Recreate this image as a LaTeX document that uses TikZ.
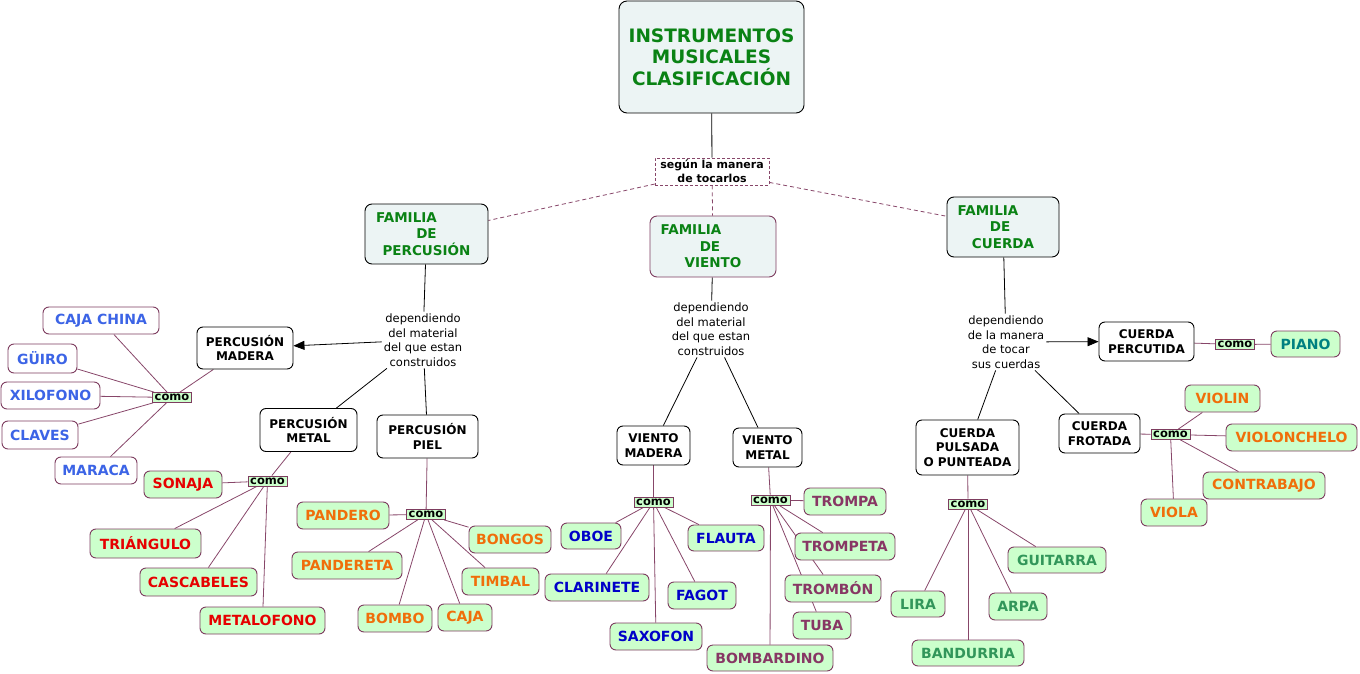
\documentclass[tikz,border=0pt]{standalone}
\usepackage{fontspec}
\setmainfont{DejaVu Sans}
\usetikzlibrary{arrows.meta,backgrounds}
\definecolor{tgreen}{RGB}{10,130,20}
\definecolor{famfill}{RGB}{236,244,244}
\definecolor{leaffill}{RGB}{204,255,204}
\definecolor{leafborder}{RGB}{125,60,95}
\definecolor{linkc}{RGB}{135,70,105}
\definecolor{cblue}{RGB}{60,100,230}
\definecolor{cred}{RGB}{230,0,0}
\definecolor{corange}{RGB}{240,110,10}
\definecolor{cdblue}{RGB}{0,0,200}
\definecolor{cpurple}{RGB}{135,55,100}
\definecolor{cteal}{RGB}{0,128,128}
\definecolor{cseag}{RGB}{50,150,90}
\tikzset{
  sz/.style 2 args={minimum width=#1pt, minimum height=#2pt},
  base/.style={inner sep=0pt, align=center, line width=0.9pt},
  title/.style={base, draw=black, fill=famfill, text=tgreen, rounded corners=8pt,
    font=\fontsize{18.5}{21.5}\selectfont\bfseries},
  fam/.style={base, draw=black, fill=famfill, text=tgreen, rounded corners=7pt,
    font=\fontsize{13.5}{16.5}\selectfont\bfseries},
  blk/.style={base, draw=black, fill=white, rounded corners=6pt,
    font=\fontsize{12}{14.3}\selectfont\bfseries},
  leaf/.style={base, draw=leafborder, fill=leaffill, rounded corners=6pt,
    font=\fontsize{14}{16}\selectfont\bfseries},
  wleaf/.style={leaf, fill=white},
  como/.style={draw=leafborder, fill=leaffill, inner sep=0pt, line width=0.8pt,
    minimum width=39pt, minimum height=10pt, font=\fontsize{11.5}{12}\selectfont\bfseries},
  seg/.style={base, draw=linkc, line width=0.8pt, dash pattern=on 3pt off 2pt, fill=white,
    font=\fontsize{11}{14}\selectfont\bfseries},
  dep/.style={inner sep=2pt, align=center, font=\fontsize{11.5}{14.5}\selectfont},
  con/.style={draw=black, line width=0.8pt},
  lcon/.style={draw=linkc, line width=0.8pt},
  arr/.style={con, -{Triangle[length=11pt,width=9pt]}},
  dsh/.style={draw=linkc, line width=0.8pt, dash pattern=on 4pt off 3pt},
}
\begin{document}
\begin{tikzpicture}[x=1pt,y=-1pt]
\useasboundingbox (0,0) rectangle (1360,674);
% top
\node[title, sz={185}{112}] (T) at (711.5,57) {INSTRUMENTOS\\MUSICALES\\CLASIFICACIÓN};
\node[seg, sz={114}{27}] (S) at (712,171.5) {según la manera\\de tocarlos};
\node[fam, sz={123}{60}] (FP) at (426.5,234) {FAMILIA\rule{40pt}{0pt}\\DE\\PERCUSIÓN};
\node[fam, draw=leafborder, sz={126}{61}] (FV) at (713,246.5) {FAMILIA\rule{44pt}{0pt}\\DE\rule{6pt}{0pt}\\VIENTO};
\node[fam, sz={112}{60}] (FC) at (1003,227) {FAMILIA\rule{30pt}{0pt}\\DE\rule{6pt}{0pt}\\CUERDA};
% labels
\node[dep] (DP) at (423,340) {dependiendo\\del material\\del que estan\\construidos};
\node[dep] (DV) at (711,329) {dependiendo\\del material\\del que estan\\construidos};
\node[dep] (DC) at (1006,342) {dependiendo\\de la manera\\de tocar\\sus cuerdas};
% black boxes
\node[blk, sz={96}{42}] (PM) at (245,348) {PERCUSIÓN\\MADERA};
\node[blk, sz={97}{43}] (PMe) at (308.5,430) {PERCUSIÓN\\METAL};
\node[blk, sz={101}{43}] (PP) at (427.5,436.5) {PERCUSIÓN\\PIEL};
\node[blk, sz={73}{39}] (VM) at (653.5,445.5) {VIENTO\\MADERA};
\node[blk, sz={69}{39}] (VMe) at (767.5,447.5) {VIENTO\\METAL};
\node[blk, sz={95}{39}] (CPe) at (1146.5,341.5) {CUERDA\\PERCUTIDA};
\node[blk, sz={81}{39}] (CF) at (1099.5,433.5) {CUERDA\\FROTADA};
\node[blk, sz={103}{55}] (CPu) at (967.5,447.5) {CUERDA\\PULSADA\\O PUNTEADA};
% como hubs
\node[como] (cPM) at (172,397.5) {como};
\node[como] (cPMe) at (267.5,481) {como};
\node[como] (cPP) at (426,514.5) {como};
\node[como] (cVM) at (653.5,502) {como};
\node[como] (cVMe) at (770.5,500) {como};
\node[como] (cCPe) at (1235,344.5) {como};
\node[como] (cCF) at (1170.5,434.5) {como};
\node[como] (cCPu) at (968,504) {como};
% percusion madera leaves
\node[wleaf, text=cblue, sz={116}{27}] (a1) at (101,320.5) {CAJA CHINA};
\node[wleaf, text=cblue, sz={69}{29}] (a2) at (42.5,358.5) {GÜIRO};
\node[wleaf, text=cblue, sz={99}{27}] (a3) at (50.5,395.5) {XILOFONO};
\node[wleaf, text=cblue, sz={76}{28}] (a4) at (40,435) {CLAVES};
\node[wleaf, text=cblue, sz={82}{27}] (a5) at (96,470.5) {MARACA};
% percusion metal
\node[leaf, text=cred, sz={78}{27}] (b1) at (183,484.5) {SONAJA};
\node[leaf, text=cred, sz={111}{29}] (b2) at (145.5,543.5) {TRIÁNGULO};
\node[leaf, text=cred, sz={117}{28}] (b3) at (198.5,582) {CASCABELES};
\node[leaf, text=cred, sz={125}{27}] (b4) at (262.5,620.5) {METALOFONO};
% percusion piel
\node[leaf, text=corange, sz={92}{27}] (c1) at (343,515.5) {PANDERO};
\node[leaf, text=corange, sz={82}{27}] (c2) at (510,539.5) {BONGOS};
\node[leaf, text=corange, sz={110}{27}] (c3) at (347,565.5) {PANDERETA};
\node[leaf, text=corange, sz={77}{27}] (c4) at (500.5,581.5) {TIMBAL};
\node[leaf, text=corange, sz={74}{27}] (c5) at (395,618.5) {BOMBO};
\node[leaf, text=corange, sz={54}{27}] (c6) at (465,617.5) {CAJA};
% viento madera
\node[leaf, text=cdblue, sz={60}{26}] (d1) at (591,536) {OBOE};
\node[leaf, text=cdblue, sz={76}{26}] (d2) at (726,538) {FLAUTA};
\node[leaf, text=cdblue, sz={104}{27}] (d3) at (597,587.5) {CLARINETE};
\node[leaf, text=cdblue, sz={68}{27}] (d4) at (702,595.5) {FAGOT};
\node[leaf, text=cdblue, sz={92}{27}] (d5) at (656,636.5) {SAXOFON};
% viento metal
\node[leaf, text=cpurple, sz={82}{27}] (e1) at (845,501.5) {TROMPA};
\node[leaf, text=cpurple, sz={100}{27}] (e2) at (845,546.5) {TROMPETA};
\node[leaf, text=cpurple, sz={96}{27}] (e3) at (833,588.5) {TROMBÓN};
\node[leaf, text=cpurple, sz={58}{27}] (e4) at (822,625.5) {TUBA};
\node[leaf, text=cpurple, sz={126}{26}] (e5) at (770,658) {BOMBARDINO};
% cuerda
\node[leaf, text=cteal, sz={69}{26}] (f1) at (1305.5,344) {PIANO};
\node[leaf, text=corange, sz={75}{27}] (g1) at (1222.5,398.5) {VIOLIN};
\node[leaf, text=corange, sz={131}{27}] (g2) at (1291.5,437.5) {VIOLONCHELO};
\node[leaf, text=corange, sz={122}{27}] (g3) at (1264,485.5) {CONTRABAJO};
\node[leaf, text=corange, sz={66}{27}] (g4) at (1174,512.5) {VIOLA};
\node[leaf, text=cseag, sz={98}{26}] (h1) at (1057,560) {GUITARRA};
\node[leaf, text=cseag, sz={54}{26}] (h2) at (918,604) {LIRA};
\node[leaf, text=cseag, sz={58}{27}] (h3) at (1018,606.5) {ARPA};
\node[leaf, text=cseag, sz={112}{26}] (h4) at (968,653) {BANDURRIA};
% connectors
\begin{pgfonlayer}{background}
\draw[con] (T) -- (S);
\draw[dsh] (S) -- (FP);
\draw[dsh] (S) -- (FV);
\draw[dsh] (S) -- (FC);
\draw[con] (FP) -- (DP);
\draw[con] (FV) -- (DV);
\draw[con] (FC) -- (DC);
\draw[arr] (DP) -- (PM);
\draw[con] (DP) -- (PMe);
\draw[con] (DP) -- (PP);
\draw[con] (DV) -- (VM);
\draw[con] (DV) -- (VMe);
\draw[arr] (DC) -- (CPe);
\draw[con] (DC) -- (CPu);
\draw[con] (DC) -- (CF);
\draw[lcon] (PM) -- (cPM);
\draw[lcon] (PMe) -- (cPMe);
\draw[lcon] (PP) -- (cPP);
\draw[lcon] (VM) -- (cVM);
\draw[lcon] (VMe) -- (cVMe);
\draw[lcon] (CPe) -- (cCPe);
\draw[lcon] (CF) -- (cCF);
\draw[lcon] (CPu) -- (cCPu);
\foreach \n in {a1,a2,a3,a4,a5} \draw[lcon] (cPM) -- (\n);
\foreach \n in {b1,b2,b3,b4} \draw[lcon] (cPMe) -- (\n);
\foreach \n in {c1,c2,c3,c4,c5,c6} \draw[lcon] (cPP) -- (\n);
\foreach \n in {d1,d2,d3,d4,d5} \draw[lcon] (cVM) -- (\n);
\foreach \n in {e1,e2,e3,e4,e5} \draw[lcon] (cVMe) -- (\n);
\draw[lcon] (cCPe) -- (f1);
\foreach \n in {g1,g2,g3,g4} \draw[lcon] (cCF) -- (\n);
\foreach \n in {h1,h2,h3,h4} \draw[lcon] (cCPu) -- (\n);
\end{pgfonlayer}
\end{tikzpicture}
\end{document}
